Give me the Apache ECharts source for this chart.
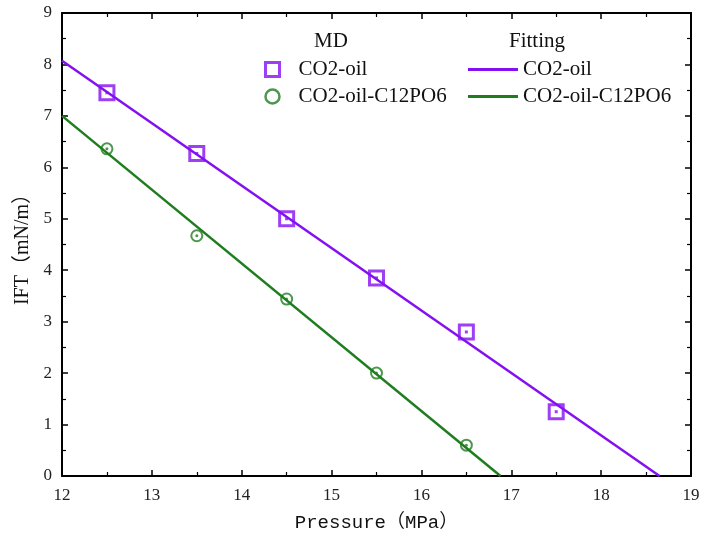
<!DOCTYPE html>
<html><head><meta charset="utf-8">
<script src="https://cdn.jsdelivr.net/npm/echarts@6/dist/echarts.min.js"></script>
<style>html,body{margin:0;padding:0;background:#fff}#c{width:701px;height:537px}</style>
</head><body><div id="c"></div>
<script>
var pressure = [12.5, 13.5, 14.5, 15.5, 16.5, 17.5];
var iftOil = [7.45, 6.27, 5.0, 3.85, 2.8, 1.25];
var pressureC12 = [12.5, 13.5, 14.5, 15.5, 16.5];
var iftC12 = [6.36, 4.67, 3.44, 2.0, 0.6];
var fitOil = [[12, 8.07], [18.65, 0]];
var fitC12 = [[12, 7.0], [16.88, 0]];
var xTicks = [12, 13, 14, 15, 16, 17, 18, 19];
var yTicks = [0, 1, 2, 3, 4, 5, 6, 7, 8, 9];

var purple = '#8410f2', green = '#1f7d1f';
var serif = 'Liberation Serif';
var labelFont = '"Liberation Mono", "Noto Sans CJK SC"';
function zip(a, b) { return a.map(function (v, i) { return [v, b[i]]; }); }

var chart = echarts.init(document.getElementById('c'));
function ax(extra) {
  var base = {
    type: 'value',
    axisLine: { show: true, onZero: false, lineStyle: { color: '#000', width: 2 } },
    axisTick: { show: true, inside: true, length: 6, lineStyle: { color: '#000', width: 1.5 } },
    minorTick: { show: true, splitNumber: 2, length: 4, lineStyle: { color: '#000', width: 1.2 } },
    splitLine: { show: false }
  };
  return Object.assign(base, extra);
}

chart.setOption({
  animation: false,
  grid: { left: 62, right: 10, top: 13, bottom: 61, containLabel: false, outerBoundsMode: 'none' },
  xAxis: [
    ax({ min: xTicks[0], max: xTicks[xTicks.length - 1], interval: 1, position: 'bottom',
      axisLabel: { color: '#222', fontFamily: serif, fontSize: 17, margin: 11 },
      name: 'Pressure（MPa）', nameLocation: 'middle', nameGap: 37,
      nameTextStyle: { color: '#111', fontFamily: labelFont, fontSize: 19 } }),
    ax({ position: 'top', min: 12, max: 19, interval: 1, axisLabel: { show: false } })
  ],
  yAxis: [
    ax({ min: yTicks[0], max: yTicks[yTicks.length - 1], interval: 1, position: 'left',
      axisLabel: { color: '#222', fontFamily: serif, fontSize: 17, margin: 10 },
      name: 'IFT（mN/m）', nameLocation: 'middle', nameGap: 29,
      nameTextStyle: { color: '#111', fontFamily: '"Liberation Serif", "Noto Sans CJK SC"', fontSize: 20 } }),
    ax({ position: 'right', min: 0, max: 9, interval: 1, axisLabel: { show: false } })
  ],
  legend: [
    { orient: 'vertical', left: 259, top: 54, itemGap: 6, itemWidth: 14, itemHeight: 14,
      textStyle: { fontFamily: serif, fontSize: 21, color: '#111', padding: [0, 0, 0, 14] },
      formatter: function (n) { return n.replace(/^MD /, ''); },
      data: [
        { name: 'MD CO2-oil', icon: 'rect', itemStyle: { color: '#fff', borderColor: purple, borderWidth: 3 } },
        { name: 'MD CO2-oil-C12PO6', icon: 'circle', itemStyle: { color: '#fff', borderColor: green, borderWidth: 2.5 } }
      ] },
    { orient: 'vertical', left: 463, top: 54, itemGap: 6, itemWidth: 50, itemHeight: 14,
      textStyle: { fontFamily: serif, fontSize: 21, color: '#111', padding: [0, 0, 0, 0] },
      formatter: function (n) { return n.replace(/^Fit /, ''); },
      data: [
        { name: 'Fit CO2-oil', icon: 'path://M0,6.5L50,6.5L50,9.5L0,9.5Z' },
        { name: 'Fit CO2-oil-C12PO6', icon: 'path://M0,6.5L50,6.5L50,9.5L0,9.5Z' }
      ] }
  ],
  graphic: [
    { type: 'text', left: 314, top: 31, style: { text: 'MD', font: '21px "Liberation Serif"', fill: '#111' } },
    { type: 'text', left: 509, top: 31, style: { text: 'Fitting', font: '21px "Liberation Serif"', fill: '#111' } }
  ],
  series: [
    { name: 'Fit CO2-oil', type: 'line', data: fitOil, symbol: 'none', lineStyle: { color: purple, width: 2.5 }, itemStyle: { color: purple } },
    { name: 'Fit CO2-oil-C12PO6', type: 'line', data: fitC12, symbol: 'none', lineStyle: { color: green, width: 2.5 }, itemStyle: { color: green } },
    { name: 'MD CO2-oil', type: 'scatter', data: zip(pressure, iftOil), symbol: 'rect', symbolSize: 14,
      itemStyle: { color: 'rgba(255,255,255,0)', borderColor: purple, borderWidth: 3 }, z: 5 },
    { name: 'MD CO2-oil-C12PO6', type: 'scatter', data: zip(pressureC12, iftC12), symbol: 'circle', symbolSize: 11,
      itemStyle: { color: 'rgba(255,255,255,0)', borderColor: green, borderWidth: 2 }, z: 5 },
    { name: 'dotOil', type: 'scatter', data: zip(pressure, iftOil), symbol: 'rect', symbolSize: 3, itemStyle: { color: purple }, z: 6, silent: true },
    { name: 'dotC12', type: 'scatter', data: zip(pressureC12, iftC12), symbol: 'circle', symbolSize: 3, itemStyle: { color: green }, z: 6, silent: true }
  ]
});
</script></body></html>
